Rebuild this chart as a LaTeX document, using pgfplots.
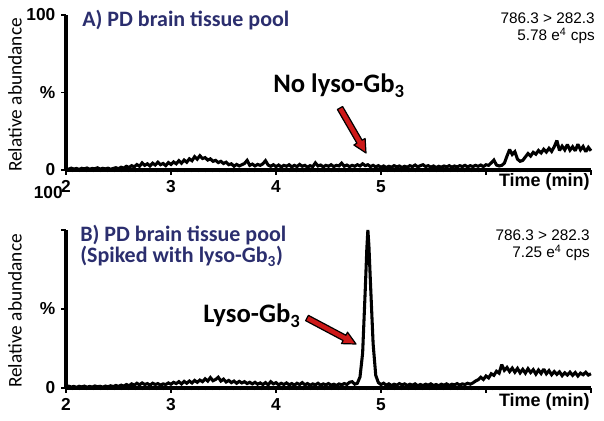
\documentclass[border=0pt]{standalone}
\usepackage{fontspec}
\setmainfont{Carlito}
\newfontfamily\arial{Liberation Sans}
\usepackage{pgfplots}
\pgfplotsset{compat=1.18}
\usepackage{pgfplotstable}
\definecolor{navy}{RGB}{43,46,110}
\definecolor{arrred}{RGB}{205,25,25}

\pgfplotstableread{
t y
2.000 1.0
2.025 0.5
2.050 1.2
2.075 0.6
2.100 1.0
2.125 0.4
2.150 1.1
2.175 0.7
2.200 1.3
2.225 0.5
2.250 1.0
2.275 0.8
2.300 1.4
2.325 0.6
2.350 1.1
2.375 0.7
2.400 1.2
2.425 0.5
2.450 1.0
2.475 1.5
2.500 0.8
2.525 1.8
2.550 1.2
2.575 2.4
2.600 1.6
2.625 2.8
2.650 2.0
2.675 3.5
2.700 2.4
2.725 4.6
2.750 3.0
2.775 4.0
2.800 2.6
2.825 4.4
2.850 3.2
2.875 5.0
2.900 3.4
2.925 4.2
2.950 2.8
2.975 4.8
3.000 3.6
3.025 5.2
3.050 4.0
3.075 6.0
3.100 4.4
3.125 6.4
3.150 5.0
3.175 7.2
3.200 6.0
3.225 8.6
3.250 7.0
3.275 9.2
3.300 7.4
3.325 8.0
3.350 6.4
3.375 7.2
3.400 5.6
3.425 6.2
3.450 4.8
3.475 5.6
3.500 4.2
3.525 5.0
3.550 3.4
3.575 4.0
3.600 2.4
3.625 3.6
3.650 2.6
3.675 3.4
3.700 4.2
3.725 6.2
3.750 3.0
3.775 3.8
3.800 2.6
3.825 3.6
3.850 3.0
3.875 4.0
3.900 6.0
3.925 3.2
3.950 2.4
3.975 3.4
4.000 2.2
4.025 3.2
4.050 2.0
4.075 3.0
4.100 2.4
4.125 3.4
4.150 2.0
4.175 3.0
4.200 2.2
4.225 3.6
4.250 2.4
4.275 3.0
4.300 1.8
4.325 2.8
4.350 2.2
4.375 4.6
4.400 2.6
4.425 3.2
4.450 2.0
4.475 3.0
4.500 2.4
4.525 3.4
4.550 2.2
4.575 3.0
4.600 2.6
4.625 4.4
4.650 2.4
4.675 3.2
4.700 2.2
4.725 3.0
4.750 2.4
4.775 3.4
4.800 2.6
4.825 4.0
4.850 2.8
4.875 3.4
4.900 2.2
4.925 3.0
4.950 2.0
4.975 2.8
5.000 1.8
5.025 2.6
5.050 1.6
5.075 2.4
5.100 1.8
5.125 2.8
5.150 2.0
5.175 2.6
5.200 1.6
5.225 2.4
5.250 1.8
5.275 2.8
5.300 2.2
5.325 3.2
5.350 2.0
5.375 2.8
5.400 3.4
5.425 2.2
5.450 2.8
5.475 1.8
5.500 2.6
5.525 1.6
5.550 2.4
5.575 1.8
5.600 2.6
5.625 2.0
5.650 2.8
5.675 1.8
5.700 2.6
5.725 2.0
5.750 2.8
5.775 2.2
5.800 3.0
5.825 2.0
5.850 2.8
5.875 2.2
5.900 3.0
5.925 2.4
5.950 3.2
5.975 2.2
6.000 3.4
6.025 3.0
6.050 4.6
6.075 6.4
6.100 3.2
6.125 2.6
6.150 3.0
6.175 4.4
6.200 9.0
6.225 13.2
6.250 10.0
6.275 11.8
6.300 7.0
6.325 5.6
6.350 6.2
6.375 8.4
6.400 10.6
6.425 9.0
6.450 11.4
6.475 10.2
6.500 12.6
6.525 11.0
6.550 13.4
6.575 11.6
6.600 14.0
6.625 12.0
6.650 15.0
6.675 19.0
6.700 12.6
6.725 15.4
6.750 13.0
6.775 16.4
6.800 12.8
6.825 15.0
6.850 12.4
6.875 16.6
6.900 13.0
6.925 15.2
6.950 11.8
6.975 14.6
7.000 12.4
}\dataA

\pgfplotstableread{
t y
2.000 0.8
2.025 1.2
2.050 0.6
2.075 1.0
2.100 0.4
2.125 1.1
2.150 0.7
2.175 1.2
2.200 0.5
2.225 1.0
2.250 0.6
2.275 1.3
2.300 0.8
2.325 1.1
2.350 0.5
2.375 1.2
2.400 0.8
2.425 1.4
2.450 0.9
2.475 1.6
2.500 1.0
2.525 1.8
2.550 1.2
2.575 2.2
2.600 1.4
2.625 2.6
2.650 1.8
2.675 3.0
2.700 2.0
2.725 3.2
2.750 2.2
2.775 2.8
2.800 1.8
2.825 3.0
2.850 2.2
2.875 2.8
2.900 1.8
2.925 2.6
2.950 2.2
2.975 3.2
3.000 2.4
3.025 3.6
3.050 2.8
3.075 4.0
3.100 2.6
3.125 4.2
3.150 3.0
3.175 4.4
3.200 3.2
3.225 4.8
3.250 3.6
3.275 5.0
3.300 4.0
3.325 5.8
3.350 4.4
3.375 6.6
3.400 4.6
3.425 5.4
3.450 6.8
3.475 4.4
3.500 5.6
3.525 3.8
3.550 4.8
3.575 3.4
3.600 4.4
3.625 3.0
3.650 4.2
3.675 3.2
3.700 4.0
3.725 2.8
3.750 3.6
3.775 2.6
3.800 3.6
3.825 2.4
3.850 3.2
3.875 2.2
3.900 3.4
3.925 2.0
3.950 4.0
3.975 2.6
4.000 3.4
4.025 2.0
4.050 3.0
4.075 2.2
4.100 3.2
4.125 2.0
4.150 2.8
4.175 1.8
4.200 3.0
4.225 2.2
4.250 3.4
4.275 2.0
4.300 2.8
4.325 1.8
4.350 2.6
4.375 2.0
4.400 3.0
4.425 1.8
4.450 2.6
4.475 2.0
4.500 2.8
4.525 1.8
4.550 2.4
4.575 1.6
4.600 2.6
4.625 2.0
4.650 2.8
4.675 2.2
4.700 3.6
4.725 4.0
4.750 2.4
4.775 3.0
4.800 7.0
4.825 22
4.850 62
4.865 88
4.875 100
4.885 90
4.900 66
4.925 28
4.950 8
4.975 3.4
5.000 2.2
5.025 3.0
5.050 1.8
5.075 2.6
5.100 1.6
5.125 2.4
5.150 1.8
5.175 2.8
5.200 2.0
5.225 2.6
5.250 1.6
5.275 2.4
5.300 1.8
5.325 2.6
5.350 1.4
5.375 2.2
5.400 1.6
5.425 2.4
5.450 1.8
5.475 2.6
5.500 1.6
5.525 2.2
5.550 1.4
5.575 2.4
5.600 1.8
5.625 2.6
5.650 1.6
5.675 2.4
5.700 2.0
5.725 2.8
5.750 1.8
5.775 2.6
5.800 2.2
5.825 3.0
5.850 2.4
5.875 3.2
5.900 4.4
5.925 5.2
5.950 6.8
5.975 5.4
6.000 7.6
6.025 6.4
6.050 9.0
6.075 8.0
6.100 10.6
6.125 9.4
6.150 14.8
6.175 11.2
6.200 13.0
6.225 10.4
6.250 12.6
6.275 10.0
6.300 12.4
6.325 9.6
6.350 11.8
6.375 9.4
6.400 12.2
6.425 9.8
6.450 11.6
6.475 8.8
6.500 11.4
6.525 9.2
6.550 12.0
6.575 9.0
6.600 11.0
6.625 8.4
6.650 10.4
6.675 8.6
6.700 10.2
6.725 7.8
6.750 9.6
6.775 8.2
6.800 10.0
6.825 8.0
6.850 9.8
6.875 7.6
6.900 9.4
6.925 8.4
6.950 10.0
6.975 8.2
7.000 9.0
}\dataB

\pgfplotsset{
  chrom/.style={
    scale only axis, width=393.75pt,
    xmin=2, xmax=7, ymin=0, ymax=100,
    axis lines=left,
    axis line style={-, line width=2.6pt, black},
    clip=false,
    xtick={2,3,4,5,6,7},
    xticklabels={2,3,4,5,,},
    minor x tick num=14,
    ytick={0,50,100},
    tick align=outside,
    major tick length=3.5pt,
    minor tick length=1.8pt,
    every tick/.style={black, line width=1.3pt},
    xticklabel style={font=\arial\bfseries\fontsize{13}{13}\selectfont, yshift=-1pt},
    yticklabel style={font=\arial\bfseries\fontsize{13}{13}\selectfont, xshift=-1pt},
  }
}

\begin{document}
\begin{tikzpicture}
\useasboundingbox (0,0) rectangle (453pt,315.75pt);

\begin{axis}[chrom, at={(49.5pt,188.25pt)}, anchor=south west, height=116.25pt,
  yticklabels={0,\%,100}]
\addplot[black, line width=2.3pt, line join=miter, miter limit=2] table[x=t,y=y] {\dataA};
\end{axis}

\begin{axis}[chrom, at={(49.5pt,24.75pt)}, anchor=south west, height=118.5pt,
  yticklabels={0,\%,}]
\addplot[black, line width=2.3pt, line join=miter, miter limit=2] table[x=t,y=y] {\dataB};
\end{axis}

\begin{scope}[yshift=315.75pt, x=0.75pt, y=-0.75pt]
  % y-axis titles
  \node[rotate=90, font=\fontsize{14.5}{14.5}\selectfont] at (15,95) {Relative abundance};
  \node[rotate=90, font=\fontsize{14.5}{14.5}\selectfont] at (15,311) {Relative abundance};
  % stray 100 label
  \node[anchor=east, inner sep=0pt, font=\arial\bfseries\fontsize{13}{13}\selectfont] at (63,193) {100};
  % titles
  \node[anchor=base west, inner sep=0pt, text=navy, font=\bfseries\fontsize{16.5}{16.5}\selectfont] at (82,27) {A) PD brain tissue pool};
  \node[anchor=base west, inner sep=0pt, text=navy, font=\bfseries\fontsize{16.5}{16.5}\selectfont] at (80,242) {B) PD brain tissue pool};
  \node[anchor=base west, inner sep=0pt, text=navy, font=\bfseries\fontsize{16.5}{16.5}\selectfont] at (80,263) {(Spiked with lyso-Gb\textsubscript{3})};
  % transition info
  \node[anchor=base east, inner sep=0pt, font=\arial\fontsize{11.5}{11.5}\selectfont] at (595,24) {786.3 > 282.3};
  \node[anchor=base east, inner sep=0pt, font=\arial\fontsize{11.5}{11.5}\selectfont] at (595,41) {5.78 e\textsuperscript{4} cps};
  \node[anchor=base east, inner sep=0pt, font=\arial\fontsize{11.5}{11.5}\selectfont] at (590,241) {786.3 > 282.3};
  \node[anchor=base east, inner sep=0pt, font=\arial\fontsize{11.5}{11.5}\selectfont] at (590,258) {7.25 e\textsuperscript{4} cps};
  % x axis titles
  \node[anchor=base east, inner sep=0pt, font=\arial\bfseries\fontsize{13.5}{13.5}\selectfont] at (590,187) {Time (min)};
  \node[anchor=base east, inner sep=0pt, font=\arial\bfseries\fontsize{13.5}{13.5}\selectfont] at (590,407) {Time (min)};
  % annotations
  \node[anchor=base west, inner sep=0pt, font=\bfseries\fontsize{20}{20}\selectfont] at (273,93) {No lyso-Gb\textsubscript{3}};
  \node[anchor=base west, inner sep=0pt, font=\bfseries\fontsize{20}{20}\selectfont] at (203,323) {Lyso-Gb\textsubscript{3}};
  % arrows
  \draw[fill=arrred, draw=black, line width=0.9pt, line join=round]
    (342.6,106.5) -- (362.1,140.2) -- (365.1,138.5) -- (366,153) -- (353.9,145.0) -- (356.9,143.2) -- (337.4,109.5) -- cycle;
  \draw[fill=arrred, draw=black, line width=0.9pt, line join=round]
    (308.4,315.35) -- (345.9,335.25) -- (347.5,332.2) -- (356,344) -- (341.5,343.6) -- (343.1,340.55) -- (305.6,320.65) -- cycle;
\end{scope}
\end{tikzpicture}
\end{document}
